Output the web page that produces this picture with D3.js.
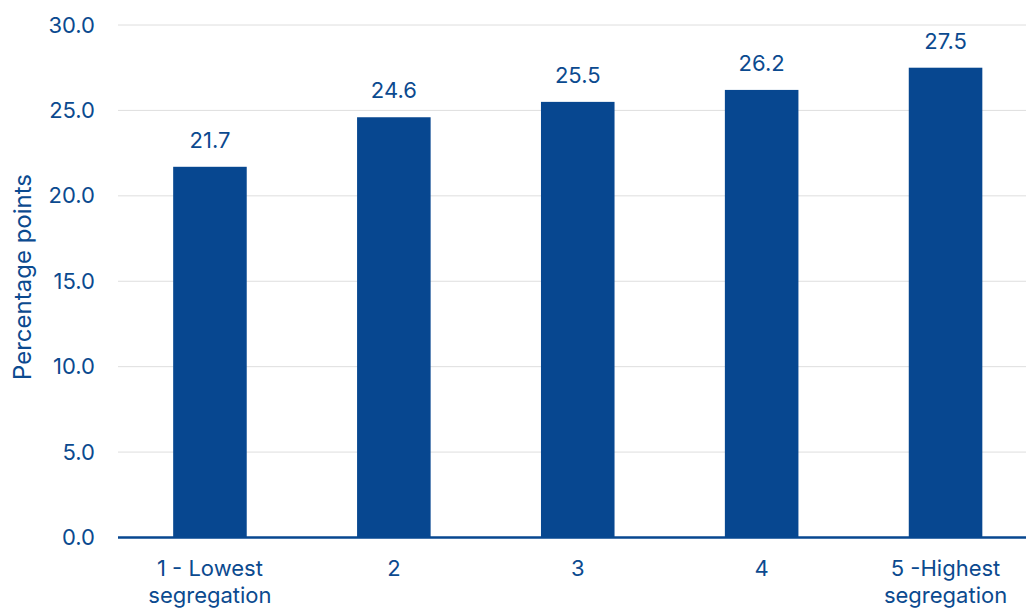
<!DOCTYPE html>
<html>
<head>
<meta charset="utf-8">
<script src="https://cdn.jsdelivr.net/npm/d3@7"></script>
<style>
  html, body { margin: 0; padding: 0; background: #ffffff; }
  svg { display: block; font-family: Inter, "Open Sans", sans-serif; }
</style>
</head>
<body>
<svg id="chart" width="1026" height="608"></svg>
<script>
// Segregation quintiles and their values (percentage points)
const categories = ["1 - Lowest|segregation", "2", "3", "4", "5 -Highest|segregation"];
const values = [21.7, 24.6, 25.5, 26.2, 27.5];
const yTicks = [0, 5, 10, 15, 20, 25, 30];
const yTitle = "Percentage points";

const ink = "#0b4a8f";
const barFill = "#074790";
const fontSize = 22;

const svg = d3.select("#chart");
const plotLeft = 118, plotRight = 1037.5, plotTop = 25, plotBottom = 537.5;

const x = d3.scaleBand().domain(categories).range([plotLeft, plotRight])
  .paddingInner(0.6).paddingOuter(0.3);
const y = d3.scaleLinear().domain([0, 30]).range([plotBottom, plotTop]);

// Horizontal gridlines
svg.append("g").selectAll("line").data(yTicks.filter(d => d > 0)).join("line")
  .attr("x1", plotLeft).attr("x2", 1026)
  .attr("y1", d => y(d)).attr("y2", d => y(d))
  .attr("stroke", "#dedede").attr("stroke-width", 1);

// Y axis tick labels
const yAxis = d3.axisLeft(y).tickValues(yTicks).tickFormat(d3.format(".1f")).tickSize(0).tickPadding(0);
const gy = svg.append("g").attr("transform", `translate(95,0)`).call(yAxis);
gy.select(".domain").remove();
gy.selectAll("text").attr("fill", ink).attr("font-size", fontSize).attr("font-family", "Inter, sans-serif");

// Y axis title
svg.append("text")
  .attr("transform", `translate(31,277) rotate(-90)`)
  .attr("text-anchor", "middle")
  .attr("fill", ink).attr("font-size", 24)
  .text(yTitle);

// Bars
svg.append("g").selectAll("rect").data(values).join("rect")
  .attr("x", (d, i) => x(categories[i]))
  .attr("width", x.bandwidth())
  .attr("y", d => y(d))
  .attr("height", d => y(0) - y(d))
  .attr("fill", barFill);

// Value labels
svg.append("g").selectAll("text").data(values).join("text")
  .attr("x", (d, i) => x(categories[i]) + x.bandwidth() / 2)
  .attr("y", d => y(d) - 19)
  .attr("text-anchor", "middle")
  .attr("fill", ink).attr("font-size", fontSize)
  .text(d => d3.format(".1f")(d));

// Baseline axis
svg.append("line")
  .attr("x1", plotLeft).attr("x2", 1026)
  .attr("y1", y(0)).attr("y2", y(0))
  .attr("stroke", barFill).attr("stroke-width", 2.5);

// Category labels (two lines where needed)
const xl = svg.append("g").selectAll("text").data(categories).join("text")
  .attr("x", d => x(d) + x.bandwidth() / 2)
  .attr("y", 576)
  .attr("text-anchor", "middle")
  .attr("fill", ink).attr("font-size", fontSize);
xl.each(function(d) {
  const t = d3.select(this);
  const cx = +t.attr("x");
  d.split("|").forEach((line, i) => {
    t.append("tspan").attr("x", cx).attr("dy", i === 0 ? 0 : 27).text(line);
  });
});
</script>
</body>
</html>
